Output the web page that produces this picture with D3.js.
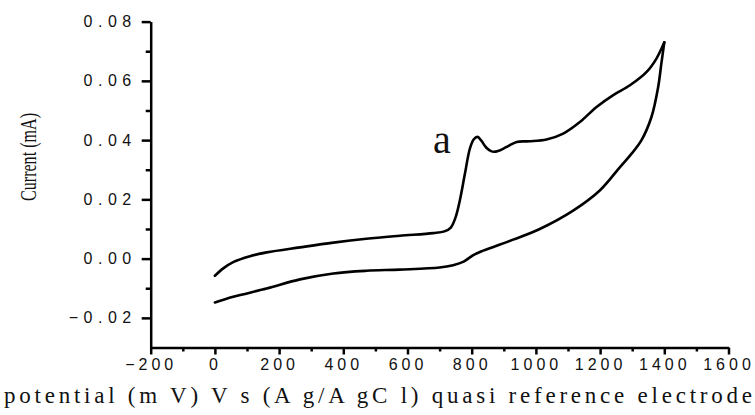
<!DOCTYPE html>
<html>
<head>
<meta charset="utf-8">
<script src="https://d3js.org/d3.v7.min.js"></script>
<style>
  * { margin: 0; padding: 0; }
  body { background: #fff; width: 755px; height: 415px; overflow: hidden; }
  svg { display: block; }
  .axis path, .axis line { stroke: #000; stroke-width: 2.5; }
  .axis text { font-family: 'Liberation Sans', Arial, sans-serif; font-size: 16px; fill: #111; letter-spacing: 4px; }
  .axis.y text { letter-spacing: 5.5px; }
  .title { font-family: 'Liberation Serif', 'Times New Roman', serif; fill: #111; }
</style>
</head>
<body>
<svg id="chart" width="755" height="415"></svg>
<script>
// potential (mV) vs current (mA), forward (anodic) scan
const forwardScan = [
  [0, -0.0058], [26, -0.0033], [57, -0.0012], [109, 0.0008], [161, 0.0021],
  [265, 0.0038], [369, 0.0054], [472, 0.0067], [576, 0.0077], [680, 0.0086],
  [715, 0.0092], [735, 0.0105], [750, 0.0140], [763, 0.0196], [779, 0.0287],
  [794, 0.0370], [806, 0.0402], [818, 0.0411], [830, 0.0398], [845, 0.0375],
  [862, 0.0362], [878, 0.0362], [909, 0.0377], [940, 0.0394], [981, 0.0396],
  [1033, 0.0402], [1085, 0.0422], [1137, 0.0461], [1189, 0.0512], [1241, 0.0552],
  [1293, 0.0585], [1345, 0.0630], [1376, 0.0676], [1400, 0.0730]
];
// reverse scan back to 0 mV
const reverseScan = [
  [1400, 0.0730], [1391, 0.0660], [1381, 0.0580], [1360, 0.0478], [1329, 0.0400],
  [1295, 0.0350], [1262, 0.0309], [1199, 0.0230], [1116, 0.0162], [1012, 0.0100],
  [929, 0.0064], [836, 0.0027], [805, 0.0012], [775, -0.0010], [742, -0.0022],
  [700, -0.0030], [576, -0.0037], [472, -0.0041], [369, -0.0050], [265, -0.0070],
  [161, -0.0101], [57, -0.0129], [0, -0.0148]
];
const xTicks = [-200, 0, 200, 400, 600, 800, 1000, 1200, 1400, 1600];
const xMinor = [-100, 100, 300, 500, 700, 900, 1100, 1300, 1500];
const yTicks = [-0.02, 0.00, 0.02, 0.04, 0.06, 0.08];
const yMinor = [-0.01, 0.01, 0.03, 0.05, 0.07];

const svg = d3.select("#chart");
const x = d3.scaleLinear().domain([-200, 1600]).range([150.7, 728.5]);
const y = d3.scaleLinear().domain([-0.03, 0.08]).range([347.5, 21.6]);

// minor ticks
svg.append("g").attr("class", "axis").attr("transform", "translate(0,347.5)")
  .call(d3.axisBottom(x).tickValues(xMinor).tickSize(4).tickSizeOuter(0).tickFormat(""))
  .select(".domain").remove();
svg.append("g").attr("class", "axis").attr("transform", "translate(150.7,0)")
  .call(d3.axisLeft(y).tickValues(yMinor).tickSize(5).tickSizeOuter(0).tickFormat(""))
  .select(".domain").remove();

// major axes
svg.append("g").attr("class", "axis x").attr("transform", "translate(0,347.5)")
  .call(d3.axisBottom(x).tickValues(xTicks).tickSize(7).tickSizeOuter(0).tickPadding(4).tickFormat(d3.format("d")));
svg.append("g").attr("class", "axis y").attr("transform", "translate(150.7,0)")
  .call(d3.axisLeft(y).tickValues(yTicks).tickSize(9).tickSizeOuter(0).tickPadding(5).tickFormat(d3.format(".2f")));

const line = d3.line().x(d => x(d[0])).y(d => y(d[1])).curve(d3.curveCatmullRom.alpha(0.5));
[forwardScan, reverseScan].forEach(s => {
  svg.append("path").datum(s).attr("d", line)
    .attr("fill", "none").attr("stroke", "#000").attr("stroke-width", 2.6)
    .attr("stroke-linejoin", "round").attr("stroke-linecap", "round");
});

svg.append("text").attr("class", "title").attr("x", 433).attr("y", 153)
  .attr("font-size", 40).text("a");

svg.append("text").attr("class", "title")
  .attr("transform", "translate(36,157) rotate(-90)")
  .attr("text-anchor", "middle").attr("font-size", 23)
  .attr("textLength", 88).attr("lengthAdjust", "spacingAndGlyphs").text("Current (mA)");

svg.append("text").attr("class", "title").attr("x", 4).attr("y", 403)
  .attr("font-size", 23).attr("textLength", 748).attr("lengthAdjust", "spacing")
  .text("potential (m V) V s (A g/A gC l) quasi reference electrode");
</script>
</body>
</html>
